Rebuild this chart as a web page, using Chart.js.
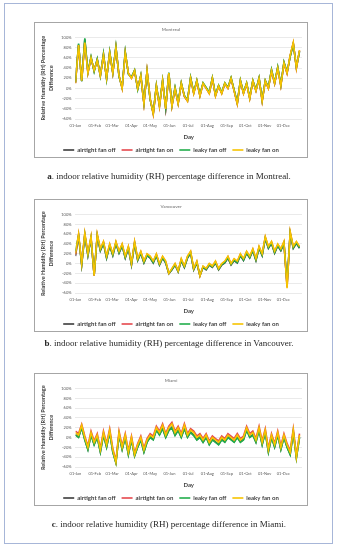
<!DOCTYPE html>
<html>
<head>
<meta charset="utf-8">
<script src="https://cdn.jsdelivr.net/npm/chart.js@4.4.0/dist/chart.umd.min.js"></script>
<style>
body{margin:0;background:#fff;width:338px;height:550px;position:relative;overflow:hidden}
#frame{position:absolute;left:4px;top:3px;width:327px;height:539px;border:1.5px solid #a7b6d8}
.box{position:absolute;left:34px;width:272px;border:1px solid #a6a6a6;background:#fff}
.box canvas{display:block}
.cap{position:absolute;left:0;width:338px;text-align:center;font-family:"Liberation Serif",serif;font-size:9px;line-height:10px;color:#262626;will-change:transform;-webkit-font-smoothing:antialiased}
</style>
</head>
<body>
<div id="frame"></div>
<div class="box" style="top:22px;height:134px"><canvas id="montreal" width="272" height="134"></canvas></div>
<div class="cap" style="top:171px"><b>a</b>. indoor relative humidity (RH) percentage difference in Montreal.</div>
<div class="box" style="top:199px;height:131px"><canvas id="vancouver" width="272" height="131"></canvas></div>
<div class="cap" style="top:338px"><b>b</b>. indoor relative humidity (RH) percentage difference in Vancouver.</div>
<div class="box" style="top:373px;height:131px"><canvas id="miami" width="272" height="131"></canvas></div>
<div class="cap" style="top:519px"><b>c</b>. indoor relative humidity (RH) percentage difference in Miami.</div>

<script>
// day of year for each sample (every 5 days)
const days = [
  0, 5, 10, 15, 20, 25, 30, 35, 40, 45,
  50, 55, 60, 65, 70, 75, 80, 85, 90, 95,
  100, 105, 110, 115, 120, 125, 130, 135, 140, 145,
  150, 155, 160, 165, 170, 175, 180, 185, 190, 195,
  200, 205, 210, 215, 220, 225, 230, 235, 240, 245,
  250, 255, 260, 265, 270, 275, 280, 285, 290, 295,
  300, 305, 310, 315, 320, 325, 330, 335, 340, 345,
  350, 355, 360
];
const monthDays = [0, 31, 59, 90, 120, 151, 181, 212, 243, 273, 304, 334];
const monthLabels = ['01-Jan','01-Feb','01-Mar','01-Apr','01-May','01-Jun','01-Jul','01-Aug','01-Sep','01-Oct','01-Nov','01-Dec'];
const seriesNames = ['airtight fan off', 'airtight fan on', 'leaky fan off', 'leaky fan on'];
const yTicks = [-60, -40, -20, 0, 20, 40, 60, 80, 100];

// Montreal
const mtlAirtightOff = [
  11, 86, 14, 96, 31, 61, 34, 57, 25, 67,
  19, 71, 30, 81, 24, 1, 71, 29, 21, 35,
  -1, 25, -29, 34, -21, -49, 5, -34, 15, -39,
  30, -34, 1, -29, 10, -15, -24, 21, -9, 15,
  -14, 10, 1, -9, 20, -14, 5, -9, 10, 1,
  20, -4, -29, 15, -9, 10, -19, 15, -4, 20,
  -24, 15, 1, 36, 10, 41, 6, 51, 31, 63,
  88, 41, 73
];
const mtlAirtightOn = [
  10, 84, 15, 91, 30, 59, 35, 56, 25, 64,
  20, 69, 30, 79, 25, 0, 69, 30, 20, 34,
  0, 24, -30, 34, -20, -51, 4, -36, 14, -40,
  29, -35, -1, -30, 9, -16, -25, 19, -10, 14,
  -15, 9, 0, -10, 19, -15, 4, -10, 9, 0,
  19, -5, -31, 14, -10, 9, -20, 14, -5, 19,
  -25, 14, 0, 34, 9, 39, 5, 49, 29, 64,
  89, 39, 74
];
const mtlLeakyOff = [
  12, 88, 14, 98, 32, 62, 33, 58, 24, 68,
  18, 72, 31, 82, 23, 2, 72, 28, 22, 36,
  -2, 26, -28, 33, -22, -48, 6, -33, 16, -38,
  31, -33, 2, -28, 11, -14, -23, 22, -8, 16,
  -13, 11, 2, -8, 21, -13, 6, -8, 11, 2,
  21, -3, -28, 16, -8, 11, -18, 16, -3, 21,
  -23, 16, 2, 37, 11, 42, 7, 52, 32, 62,
  87, 42, 72
];
const mtlLeakyOn = [
  10, 85, 15, 90, 30, 60, 35, 55, 25, 65,
  20, 70, 30, 80, 25, 0, 70, 30, 20, 35,
  0, 25, -30, 35, -20, -50, 5, -35, 15, -40,
  30, -35, 0, -30, 10, -15, -25, 20, -10, 15,
  -15, 10, 0, -10, 20, -15, 5, -10, 10, 0,
  20, -5, -30, 15, -10, 10, -20, 15, -5, 20,
  -25, 15, 0, 35, 10, 40, 5, 50, 30, 65,
  90, 40, 75
];

// Vancouver
const vanAirtightOff = [
  15, 56, -3, 58, 16, 51, -24, 56, 26, 41,
  11, 36, 16, 41, 21, 36, 11, 31, -3, 41,
  6, 21, 1, 16, 11, 1, 16, -3, 11, 1,
  -21, -13, -3, -17, 6, -8, 11, 21, -13, 1,
  -25, -8, -13, -3, -8, 1, -13, -3, 1, 11,
  -3, 6, 1, 16, 6, 21, 11, 26, 6, 31,
  16, 51, 31, 41, 21, 36, 26, 41, -45, 61,
  31, 41, 31
];
const vanAirtightOn = [
  18, 59, -1, 61, 19, 54, -25, 59, 29, 44,
  14, 39, 19, 44, 24, 39, 14, 34, -1, 44,
  9, 24, 4, 19, 14, 4, 19, -1, 14, 4,
  -20, -11, -1, -15, 9, -6, 14, 24, -11, 4,
  -25, -6, -11, -1, -6, 4, -11, -1, 4, 14,
  -1, 9, 4, 19, 9, 24, 14, 29, 9, 34,
  19, 54, 34, 44, 24, 39, 29, 44, -48, 64,
  34, 44, 34
];
const vanLeakyOff = [
  25, 57, -2, 59, 17, 52, -23, 57, 27, 42,
  12, 37, 17, 42, 22, 37, 12, 32, -2, 42,
  7, 22, 2, 17, 12, 2, 17, -2, 12, 2,
  -20, -12, -2, -16, 7, -7, 12, 22, -12, 2,
  -24, -7, -12, -2, -7, 2, -12, -2, 2, 12,
  -2, 7, 2, 17, 7, 22, 12, 27, 7, 32,
  17, 52, 32, 42, 22, 37, 27, 42, -40, 62,
  32, 42, 32
];
const vanLeakyOn = [
  20, 60, 0, 62, 20, 55, -25, 60, 30, 45,
  15, 40, 20, 45, 25, 40, 15, 35, 0, 45,
  10, 25, 5, 20, 15, 5, 20, 0, 15, 5,
  -20, -10, 0, -15, 10, -5, 15, 25, -10, 5,
  -25, -5, -10, 0, -5, 5, -10, 0, 5, 15,
  0, 10, 5, 20, 10, 25, 15, 30, 10, 35,
  20, 55, 35, 45, 25, 40, 30, 45, -50, 65,
  35, 45, 35
];

// Miami
const miaAirtightOff = [
  6, 1, 21, -4, -24, 6, -14, 1, -29, 6,
  -19, 11, -29, -51, 6, -24, 1, -34, -4, -37,
  -19, -4, -29, -9, 1, -4, 16, 6, 19, 1,
  15, 21, 5, 15, 1, 19, 1, 11, 5, -4,
  1, -9, 1, -14, -4, -9, -14, -4, -9, 1,
  -4, -9, 1, -9, -4, 16, 1, 6, -9, 16,
  -14, 11, -29, 1, -19, 6, -24, 1, -19, -34,
  11, -41, 1
];
const miaAirtightOn = [
  13, 8, 27, 3, -17, 13, -7, 8, -22, 13,
  -12, 18, -22, -47, 13, -17, 8, -27, 3, -32,
  -12, 3, -22, -2, 8, 3, 23, 13, 28, 8,
  23, 31, 13, 23, 8, 28, 8, 18, 13, 3,
  8, -2, 8, -7, 3, -2, -7, 3, -2, 8,
  3, -2, 8, -2, 3, 23, 8, 13, -2, 23,
  -7, 18, -22, 8, -12, 13, -17, 8, -12, -27,
  18, -37, 8
];
const miaLeakyOff = [
  5, 0, 20, -5, -25, 5, -15, 0, -30, 5,
  -20, 10, -30, -52, 5, -25, 0, -35, -5, -38,
  -20, -5, -30, -10, 0, -5, 15, 5, 18, 0,
  14, 20, 4, 14, 0, 18, 0, 10, 4, -5,
  0, -10, 0, -15, -5, -10, -15, -5, -10, 0,
  -5, -10, 0, -10, -5, 15, 0, 5, -10, 15,
  -15, 10, -30, 0, -20, 5, -25, 0, -20, -35,
  10, -42, 0
];
const miaLeakyOn = [
  10, 5, 25, 0, -20, 10, -10, 5, -25, 10,
  -15, 15, -25, -50, 10, -20, 5, -30, 0, -35,
  -15, 0, -25, -5, 5, 0, 20, 10, 25, 5,
  20, 28, 10, 20, 5, 25, 5, 15, 10, 0,
  5, -5, 5, -10, 0, -5, -10, 0, -5, 5,
  0, -5, 5, -5, 0, 20, 5, 10, -5, 20,
  -10, 15, -25, 5, -15, 10, -20, 5, -15, -30,
  15, -40, 5
];

const colors = ['#3b3b3b', '#e5484d', '#22ad4c', '#f7c300'];
const drawOrder = [3, 2, 1, 0]; // leaky fan on drawn on top
const FONT = 'Lato, "Liberation Sans", sans-serif';

function makeChart(id, title, values) {
  const datasets = values.map((vals, i) => ({
    label: seriesNames[i],
    data: days.map((d, k) => ({ x: d, y: vals[k] })),
    borderColor: colors[i],
    backgroundColor: colors[i],
    borderWidth: 1.6,
    pointRadius: 0,
    tension: 0,
    order: drawOrder[i]
  }));

  new Chart(document.getElementById(id), {
    type: 'line',
    data: { datasets: datasets },
    options: {
      responsive: false,
      animation: false,
      layout: { padding: { top: 2, right: 5, left: 5, bottom: 0 } },
      plugins: {
        title: {
          display: true, text: title, color: '#8c8c8c',
          font: { family: FONT, size: 4.5 }, padding: { top: 2, bottom: 5 }
        },
        legend: {
          position: 'bottom',
          maxHeight: 16,
          labels: {
            color: '#404040', font: { family: FONT, size: 6, weight: 'bold' },
            usePointStyle: true, pointStyle: 'line', pointStyleWidth: 11,
            padding: 6,
            sort: (a, b) => a.datasetIndex - b.datasetIndex
          }
        },
        tooltip: { enabled: false }
      },
      scales: {
        x: {
          type: 'linear', min: 0, max: 364,
          afterBuildTicks: s => { s.ticks = monthDays.map(v => ({ value: v })); },
          ticks: {
            autoSkip: false, maxRotation: 0, color: '#595959', padding: 4,
            font: { family: FONT, size: 4 },
            callback: v => monthLabels[monthDays.indexOf(v)]
          },
          grid: { display: false, drawTicks: false },
          border: { display: false },
          title: {
            display: true, text: 'Day', color: '#404040',
            font: { family: FONT, size: 6, weight: 'bold' }, padding: { top: 2, bottom: 0 }
          }
        },
        y: {
          min: -60, max: 100,
          afterBuildTicks: s => { s.ticks = yTicks.map(v => ({ value: v })); },
          ticks: {
            color: '#595959', padding: 4,
            font: { family: FONT, size: 4 },
            callback: v => v + '%'
          },
          grid: { color: '#dcdcdc', lineWidth: 0.6, drawTicks: false },
          border: { display: false },
          title: {
            display: true, text: ['Relative Humidity (RH) Percentage', 'Difference'],
            color: '#404040', font: { family: FONT, size: 5.5, weight: 'bold', lineHeight: 1.3 },
            padding: { top: 0, bottom: 3 }
          }
        }
      }
    }
  });
}

makeChart('montreal', 'Montreal', [mtlAirtightOff, mtlAirtightOn, mtlLeakyOff, mtlLeakyOn]);
makeChart('vancouver', 'Vancouver', [vanAirtightOff, vanAirtightOn, vanLeakyOff, vanLeakyOn]);
makeChart('miami', 'Miami', [miaAirtightOff, miaAirtightOn, miaLeakyOff, miaLeakyOn]);
</script>
</body>
</html>
